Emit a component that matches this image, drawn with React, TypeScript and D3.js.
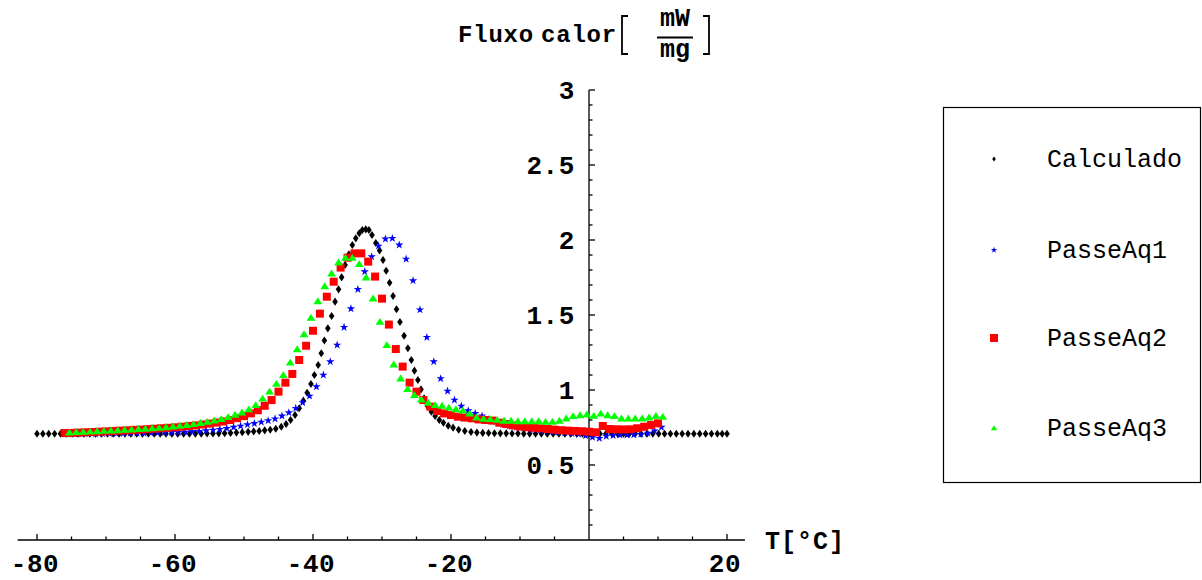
import React from 'react';
import * as d3 from 'd3';

// ---------------- DATA ----------------
const calcT = [
  -80, -79.15, -78.3, -77.45, -76.6, -75.75, -74.9, -74.05, -73.2, -72.35, -71.5, -70.65, -69.8, -68.95,
  -68.1, -67.25, -66.4, -65.55, -64.7, -63.85, -63, -62.15, -61.3, -60.45, -59.6, -58.75, -57.9, -57.05,
  -56.2, -55.35, -54.5, -53.65, -52.8, -51.95, -51.1, -50.25, -49.4, -48.6, -47.8, -47.0, -46.2,
  -45.4, -44.6, -43.9, -43.25, -42.6, -42.0, -41.4, -40.85, -40.3, -39.8, -39.25, -38.8, -38.35, -37.85,
  -37.3, -36.8, -36.3, -35.85, -35.35, -34.8, -34.3, -33.8, -33.3, -32.85, -32.35, -31.9, -31.45, -30.9,
  -30.35, -29.85, -29.4, -28.9, -28.4, -27.9, -27.4, -26.8, -26.25, -25.75, -25.3, -24.8, -24.35, -23.9,
  -23.4, -22.85, -22.3, -21.7, -21.1, -20.4, -19.7, -18.9, -18.0, -17.1,
  -16.25, -15.4, -14.55, -13.7, -12.85, -12.0, -11.15, -10.3, -9.45, -8.6, -7.75, -6.9, -6.05, -5.2,
  -4.35, -3.5, -2.65, -1.8, -0.95, -0.1, 0.75, 1.6, 2.45, 3.3, 4.15, 5.0, 5.85, 6.7, 7.55, 8.4, 9.25,
  10.1, 10.95, 11.8, 12.65, 13.5, 14.35, 15.2, 16.05, 16.9, 17.75, 18.6, 19.3, 20.0,
];
const calcV = [
  0.708, 0.708, 0.708, 0.708, 0.708, 0.708, 0.708, 0.708, 0.708, 0.708, 0.708, 0.708, 0.708, 0.708,
  0.708, 0.708, 0.708, 0.708, 0.708, 0.708, 0.708, 0.708, 0.708, 0.708, 0.708, 0.708, 0.709, 0.709,
  0.709, 0.710, 0.710, 0.711, 0.712, 0.714, 0.716, 0.718, 0.721, 0.724, 0.727, 0.731, 0.735,
  0.742, 0.755, 0.773, 0.800, 0.833, 0.878, 0.929, 0.982, 1.040, 1.100, 1.167, 1.245, 1.330, 1.411,
  1.493, 1.589, 1.671, 1.751, 1.833, 1.905, 1.967, 2.011, 2.045, 2.067, 2.071, 2.067, 2.033, 1.980,
  1.930, 1.867, 1.795, 1.715, 1.627, 1.538, 1.453, 1.362, 1.278, 1.200, 1.129, 1.067, 1.004, 0.945,
  0.893, 0.855, 0.827, 0.800, 0.782, 0.762, 0.749, 0.735, 0.727, 0.720,
  0.716, 0.714, 0.713, 0.712, 0.711, 0.711, 0.710, 0.710, 0.709, 0.709, 0.709, 0.709, 0.708, 0.708,
  0.708, 0.708, 0.708, 0.708, 0.708, 0.708, 0.708, 0.708, 0.708, 0.708, 0.708, 0.708, 0.708, 0.708,
  0.708, 0.708, 0.708, 0.708, 0.708, 0.708, 0.708, 0.708, 0.708, 0.708, 0.708, 0.708, 0.708, 0.708,
  0.708, 0.708, 0.708, 0.708, 0.708, 0.708,
];

const aq1T = [
  -75.5, -74.5, -73.5, -72.5, -71.5, -70.5, -69.5, -68.5, -67.5, -66.5, -65.5, -64.5, -63.5, -62.5,
  -61.5, -60.5, -59.5, -58.5, -57.5, -56.5, -55.5, -54.5, -53.5, -52.5, -51.5, -50.5, -49.5, -48.5,
  -47.5, -46.5, -45.5, -44.5, -43.5, -42.5, -41.5, -40.5, -39.5, -38.5, -37.5, -36.5, -35.5, -34.5,
  -33.5, -32.5, -31.5, -30.5, -29.5, -28.5, -27.5, -26.5, -25.5, -24.5, -23.5, -22.5, -21.5, -20.5,
  -19.5, -18.5, -17.5, -16.5, -15.5, -14.5, -13.5, -12.5, -11.5, -10.5, -9.5, -8.5, -7.5, -6.5,
  -5.5, -4.5, -3.5, -2.5, -1.5, -0.5, 0.5, 1.5, 2.5, 3.5, 4.5, 5.5, 6.5, 7.5, 8.5, 9.5, 10.5,
];
const aq1V = [
  0.706, 0.707, 0.707, 0.708, 0.708, 0.709, 0.710, 0.710, 0.711, 0.712, 0.712, 0.713, 0.714, 0.715,
  0.716, 0.717, 0.718, 0.720, 0.722, 0.725, 0.729, 0.733, 0.738, 0.744, 0.752, 0.760, 0.769, 0.777,
  0.786, 0.796, 0.808, 0.827, 0.849, 0.878, 0.916, 0.960, 1.022, 1.100, 1.189, 1.300, 1.418, 1.542,
  1.671, 1.789, 1.889, 1.960, 2.007, 2.011, 1.967, 1.873, 1.729, 1.535, 1.351, 1.189, 1.076, 0.993,
  0.933, 0.893, 0.862, 0.844, 0.827, 0.804, 0.789, 0.770, 0.760, 0.752, 0.745, 0.738, 0.732, 0.727,
  0.722, 0.718, 0.714, 0.710, 0.705, 0.695, 0.685, 0.678, 0.692, 0.697, 0.700, 0.700, 0.702, 0.705,
  0.712, 0.728, 0.752,
];

const aq2T = [
  -76, -75, -74, -73, -72, -71, -70, -69, -68, -67, -66, -65, -64, -63, -62, -61, -60, -59, -58, -57,
  -56, -55, -54, -53, -52, -51, -50, -49, -48, -47, -46, -45, -44, -43, -42, -41, -40, -39, -38, -37,
  -36, -35, -34, -33, -32, -31, -30, -29, -28, -27, -26, -25, -24, -23, -22, -21, -20, -19, -18, -17,
  -16, -15, -14, -13, -12, -11, -10, -9, -8, -7, -6, -5, -4, -3, -2, -1, 0, 1, 2, 3, 4, 5, 6, 7, 8,
  9, 10,
];
const aq2V = [
  0.713, 0.714, 0.716, 0.718, 0.720, 0.722, 0.724, 0.727, 0.729, 0.731, 0.734, 0.736, 0.739, 0.742,
  0.745, 0.748, 0.751, 0.755, 0.760, 0.764, 0.770, 0.776, 0.783, 0.790, 0.800, 0.812, 0.826, 0.844,
  0.865, 0.895, 0.933, 0.989, 1.049, 1.107, 1.200, 1.295, 1.395, 1.509, 1.622, 1.722, 1.816, 1.882,
  1.911, 1.911, 1.856, 1.756, 1.609, 1.436, 1.273, 1.156, 1.049, 0.989, 0.933, 0.889, 0.860, 0.844,
  0.833, 0.822, 0.816, 0.811, 0.804, 0.800, 0.796, 0.782, 0.773, 0.764, 0.757, 0.752, 0.748, 0.744,
  0.740, 0.736, 0.732, 0.729, 0.727, 0.725, 0.722, 0.718, 0.760, 0.740, 0.738, 0.737, 0.738, 0.745,
  0.755, 0.767, 0.778,
];

const aq3T = [
  -75.3, -74.3, -73.3, -72.3, -71.3, -70.3, -69.3, -68.3, -67.3, -66.3, -65.3, -64.3, -63.3, -62.3,
  -61.3, -60.3, -59.3, -58.3, -57.3, -56.3, -55.3, -54.3, -53.3, -52.3, -51.3, -50.3, -49.3, -48.3,
  -47.3, -46.3, -45.3, -44.3, -43.3, -42.3, -41.3, -40.3, -39.3, -38.3, -37.3, -36.3, -35.3, -34.3,
  -33.3, -32.3, -31.3, -30.3, -29.3, -28.3, -27.3, -26.3, -25.3, -24.3, -23.3, -22.3, -21.3, -20.3,
  -19.3, -18.3, -17.3, -16.3, -15.3, -14.3, -13.3, -12.3, -11.3, -10.3, -9.3, -8.3, -7.3, -6.3,
  -5.3, -4.3, -3.3, -2.3, -1.3, -0.3, 0.7, 1.7, 2.7, 3.7, 4.7, 5.7, 6.7, 7.7, 8.7, 9.7, 10.7,
];
const aq3V = [
  0.718, 0.720, 0.722, 0.724, 0.726, 0.729, 0.731, 0.733, 0.735, 0.738, 0.741, 0.743, 0.746, 0.749,
  0.753, 0.758, 0.763, 0.768, 0.774, 0.781, 0.789, 0.797, 0.807, 0.820, 0.836, 0.851, 0.872, 0.900,
  0.944, 0.990, 1.042, 1.100, 1.184, 1.273, 1.373, 1.482, 1.593, 1.693, 1.778, 1.851, 1.882, 1.882,
  1.840, 1.751, 1.611, 1.455, 1.300, 1.171, 1.078, 1.007, 0.967, 0.938, 0.916, 0.900, 0.896, 0.884,
  0.873, 0.864, 0.844, 0.818, 0.809, 0.807, 0.802, 0.796, 0.796, 0.793, 0.793, 0.793, 0.793, 0.789,
  0.789, 0.796, 0.811, 0.827, 0.833, 0.838, 0.829, 0.844, 0.833, 0.827, 0.811, 0.811, 0.811, 0.811,
  0.818, 0.829, 0.822,
];

const seriesNames = ['Calculado', 'PasseAq1', 'PasseAq2', 'PasseAq3'];
const seriesColors = ['#000000', '#0000ff', '#ff0000', '#00ff00'];
const xTickLabels = ['-80', '-60', '-40', '-20', '20'];
const yTickLabels = ['0.5', '1', '1.5', '2', '2.5', '3'];

// ---------------- LAYOUT ----------------
const W = 1202;
const H = 580;
const x = d3.scaleLinear().domain([-80, 20]).range([37, 727]);
const y = d3.scaleLinear().domain([0, 3]).range([540, 90]);
const xAxisExtent = [-82.8, 22.6];

const MONO = "'Liberation Mono', 'Courier New', monospace";

const diamond = (s: number) => `M0,${-s * 1.45}L${s},0L0,${s * 1.45}L${-s},0Z`;
const triangle = (s: number) => `M0,${-s * 0.85}L${s},${s * 0.7}L${-s},${s * 0.7}Z`;
const starPath = (size: number) => d3.symbol().type(d3.symbolStar).size(size)() as string;

function zip(t: number[], v: number[]) {
  return t.map((tt, i) => [tt, v[i]] as [number, number]);
}

export default function App() {
  const xMajor = x.ticks(5).filter((d) => d !== 0);
  const xMinor = x.ticks(20).filter((d) => d !== 0 && !xMajor.includes(d));
  const yMajor = y.ticks(6).filter((d) => d !== 0);
  const yMinor = y.ticks(30).filter((d) => d > 0.001 && !yMajor.some((m) => Math.abs(m - d) < 1e-9));

  const calc = zip(calcT, calcV);
  const aq1 = zip(aq1T, aq1V);
  const aq2 = zip(aq2T, aq2V);
  const aq3 = zip(aq3T, aq3V);
  const star = starPath(22);

  const legendY = [159, 250, 338, 428];

  return (
    <svg
      width={W}
      height={H}
      style={{ position: 'absolute', left: 0, top: 0, background: '#fff' }}
      xmlns="http://www.w3.org/2000/svg"
    >
      <rect x={0} y={0} width={W} height={H} fill="#fff" />

      {/* y axis label */}
      <g fontFamily={MONO} fontWeight="bold" fill="#000">
        <text x={458} y={42} fontSize={24} letterSpacing={0.8}>Fluxo</text>
        <text x={541} y={42} fontSize={24} letterSpacing={0.8}>calor</text>
        <path d="M628,16 H622 V54 H628" fill="none" stroke="#000" strokeWidth={1.8} />
        <text x={675} y={26} fontSize={25} textAnchor="middle" letterSpacing={0}>mW</text>
        <line x1={657} x2={693} y1={37.5} y2={37.5} stroke="#000" strokeWidth={2} />
        <text x={675} y={57} fontSize={25} textAnchor="middle" letterSpacing={0}>mg</text>
        <path d="M703,16 H709 V54 H703" fill="none" stroke="#000" strokeWidth={1.8} />
      </g>

      {/* x axis label */}
      <text x={765} y={549} fontFamily={MONO} fontWeight="bold" fontSize={25} letterSpacing={1}>
        T[°C]
      </text>

      {/* axes */}
      <g stroke="#000" strokeWidth={1.3} fill="none">
        <line x1={x(xAxisExtent[0])} x2={x(xAxisExtent[1])} y1={y(0)} y2={y(0)} />
        <line x1={x(0)} x2={x(0)} y1={y(0)} y2={y(3)} />
        {xMajor.map((t) => (
          <line key={'xM' + t} x1={x(t)} x2={x(t)} y1={y(0)} y2={y(0) - 6} />
        ))}
        {xMinor.map((t) => (
          <line key={'xm' + t} x1={x(t)} x2={x(t)} y1={y(0)} y2={y(0) - 3.5} />
        ))}
        {yMajor.map((v) => (
          <line key={'yM' + v} x1={x(0)} x2={x(0) + 6} y1={y(v)} y2={y(v)} />
        ))}
        {yMinor.map((v) => (
          <line key={'ym' + v} x1={x(0)} x2={x(0) + 3.5} y1={y(v)} y2={y(v)} />
        ))}
      </g>

      {/* tick labels */}
      <g fontFamily={MONO} fontWeight="bold" fontSize={26} fill="#000" letterSpacing={0.6}>
        {xMajor.map((t, i) => (
          <text key={'xl' + t} x={x(t) - 2} y={572} textAnchor="middle">
            {xTickLabels[i]}
          </text>
        ))}
        {yMajor.map((v, i) => (
          <text key={'yl' + v} x={575} y={y(v) + 9} textAnchor="end">
            {yTickLabels[i]}
          </text>
        ))}
      </g>

      {/* series */}
      <g fill={seriesColors[0]}>
        {calc.map(([t, v], i) => (
          <path key={'c' + i} d={diamond(2.8)} transform={`translate(${x(t)},${y(v)})`} />
        ))}
      </g>
      <g fill={seriesColors[1]}>
        {aq1.map(([t, v], i) => (
          <path key={'b' + i} d={star} transform={`translate(${x(t)},${y(v)})`} />
        ))}
      </g>
      <g fill={seriesColors[2]}>
        {aq2.map(([t, v], i) => (
          <rect key={'r' + i} x={x(t) - 4} y={y(v) - 4} width={8} height={8} />
        ))}
      </g>
      <g fill={seriesColors[3]}>
        {aq3.map(([t, v], i) => (
          <path key={'g' + i} d={triangle(4.4)} transform={`translate(${x(t)},${y(v)})`} />
        ))}
      </g>

      {/* legend */}
      <rect x={943.5} y={107.5} width={257} height={375} fill="#fff" stroke="#000" strokeWidth={1.2} />
      <g>
        <path d={diamond(1.8)} transform={`translate(994,${legendY[0]})`} fill={seriesColors[0]} />
        <path d={starPath(12)} transform={`translate(994,${legendY[1]})`} fill={seriesColors[1]} />
        <rect x={990} y={legendY[2] - 4} width={8} height={8} fill={seriesColors[2]} />
        <path d={triangle(3.2)} transform={`translate(994,${legendY[3]})`} fill={seriesColors[3]} />
      </g>
      <g fontFamily={MONO} fontSize={25} fill="#000">
        {seriesNames.map((n, i) => (
          <text key={n} x={1047} y={legendY[i] + 8}>
            {n}
          </text>
        ))}
      </g>
    </svg>
  );
}
